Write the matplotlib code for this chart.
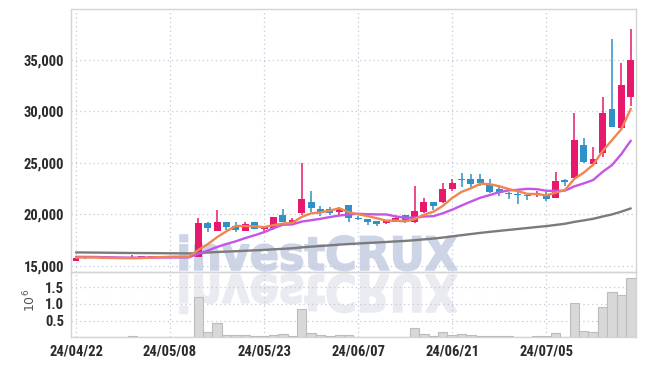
import numpy as np
import pandas as pd
import matplotlib
matplotlib.use("Agg")
import matplotlib.pyplot as plt
from matplotlib.textpath import TextPath
from matplotlib.patches import PathPatch
from matplotlib.font_manager import FontProperties, fontManager
from matplotlib.transforms import Affine2D

# ---------------- data ----------------
opens = [15500, 15700, 15820, 15780, 15650, 15700, 15720, 15780, 15800, 15880,
         15880, 15870, 15860, 15870, 19150, 18400, 19250, 18860, 18400, 19220,
         18600, 18670, 19930, 19180, 20160, 21230, 20520, 20520, 20250, 20900,
         19650, 19540, 19320, 19120, 19280, 19900, 19280, 20250, 21160, 21230,
         22430, 23400, 23400, 23400, 22850, 22430, 22100, 21900, 21830, 21850,
         21880, 21620, 23340, 23560, 26740, 24890, 26000, 30210, 28370, 31440]
highs = [15820, 15850, 15860, 15800, 15720, 15750, 16040, 15950, 15940, 15920,
         15920, 15900, 15900, 19600, 19200, 20390, 19280, 19250, 19250, 19250,
         18900, 19750, 20490, 19670, 24960, 22270, 20810, 20740, 20740, 20950,
         19830, 19560, 19350, 19420, 19770, 19950, 22750, 21560, 21200, 23010,
         23400, 23990, 23920, 23920, 23400, 22850, 22150, 22150, 22100, 22300,
         22150, 24150, 23400, 29830, 27390, 26580, 31440, 37020, 34690, 38000]
lows = [15480, 15680, 15760, 15620, 15620, 15650, 15700, 15760, 15780, 15840,
        15850, 15840, 15830, 15830, 18250, 18350, 18470, 18280, 18350, 18550,
        18400, 18470, 19200, 19150, 19930, 20250, 19830, 19900, 19830, 19280,
        19400, 18960, 18860, 19080, 19250, 19150, 19180, 20100, 20420, 21070,
        22300, 22680, 22680, 22750, 22100, 21750, 21460, 21000, 21350, 21650,
        21330, 21560, 22750, 23500, 25020, 24700, 25600, 28520, 28270, 30540]
closes = [15780, 15820, 15800, 15650, 15700, 15680, 15800, 15900, 15900, 15880,
          15870, 15860, 15850, 19180, 18670, 19280, 18760, 18470, 19060, 18600,
          18860, 19710, 19250, 19420, 21490, 20580, 20160, 20160, 20520, 19610,
          19580, 19280, 19060, 19380, 19610, 19220, 20320, 21230, 20840, 22430,
          23070, 23330, 22950, 23070, 22200, 22100, 21950, 21880, 21780, 22100,
          21490, 23240, 23170, 27230, 25120, 25350, 29830, 28520, 32580, 35010]
volumes_m = [0.005, 0.005, 0.003, 0.003, 0.003, 0.005, 0.04, 0.01, 0.005, 0.003,
             0.003, 0.003, 0.005, 1.20, 0.16, 0.42, 0.06, 0.06, 0.06, 0.03,
             0.03, 0.06, 0.09, 0.04, 0.84, 0.12, 0.06, 0.05, 0.06, 0.06,
             0.01, 0.01, 0.01, 0.01, 0.02, 0.02, 0.27, 0.10, 0.04, 0.15,
             0.07, 0.09, 0.06, 0.04, 0.03, 0.03, 0.03, 0.02, 0.02, 0.03,
             0.04, 0.12, 0.02, 1.02, 0.19, 0.16, 0.90, 1.35, 1.27, 1.77]
tick_pos = [0, 10, 20, 30, 40, 50]
tick_labels = ["24/04/22", "24/05/08", "24/05/23", "24/06/07", "24/06/21", "24/07/05"]
price_ticks = [15000, 20000, 25000, 30000, 35000]
vol_ticks = [0.5, 1.0, 1.5]
ma_windows = [60, 10, 5]
ma_start_levels = [16300, 15870, 15800]   # level of each MA line at the left edge
ma_colors = ["#7b7b7d", "#c655e6", "#ef8650"]

UP, DOWN = "#e8196c", "#2e91c7"
GRID = "#c4c8d8"
SPINE = "#d4d4d4"
TXT = "#2b2b2b"

names = {f.name for f in fontManager.ttflist}
if "Roboto Condensed" in names:
    tick_fp = FontProperties(family="Roboto Condensed", weight="bold", size=10.5)
else:
    tick_fp = FontProperties(family="DejaVu Sans", stretch="condensed", weight="bold", size=9.5)

# ---------------- layout ----------------
W, H = 645, 366
fig = plt.figure(figsize=(W / 100, H / 100), dpi=100, facecolor="white")
L, R = 71.3, 635.5
T, MID, B = 9.3, 272.3, 337.3
ax = fig.add_axes([L / W, 1 - MID / H, (R - L) / W, (MID - T) / H], facecolor="none")
axv = fig.add_axes([L / W, 1 - B / H, (R - L) / W, (B - MID) / H], facecolor="none", sharex=ax)

# watermark (behind everything)
wm = fig.add_axes([0, 0, 1, 1], zorder=-1)
wm.set_xlim(0, W)
wm.set_ylim(H, 0)
wm.axis("off")
tp = TextPath((0, 0), "investCRUX", size=100,
              prop=FontProperties(family="DejaVu Sans", weight="bold"))
ext = tp.get_extents()
x0, x1, ytop, ybase = 180, 457, 235, 270
sx = (x1 - x0) / ext.width
sy = (ybase - ytop) / ext.y1
main_tr = Affine2D().translate(-ext.x0, 0).scale(sx, -sy).translate(x0, ybase) + wm.transData
refl_tr = Affine2D().translate(-ext.x0, 0).scale(sx, sy * 1.1).translate(x0, ybase + 5) + wm.transData
wm.add_patch(PathPatch(tp, transform=main_tr, facecolor="#cdd4e5", edgecolor="#cdd4e5", linewidth=1.2))
wm.add_patch(PathPatch(tp, transform=refl_tr, facecolor="#e9ebf1", edgecolor="#e9ebf1", linewidth=1.2))

# ---------------- candles ----------------
n = len(closes)
x = np.arange(n)
o = np.array(opens, float)
c = np.array(closes, float)
h = np.array(highs, float)
l = np.array(lows, float)
up = c >= o
cols = np.where(up, UP, DOWN)
ax.vlines(x, l, h, colors=cols, linewidth=1.1, zorder=3)
body_bottom = np.minimum(o, c)
body_h = np.maximum(np.abs(c - o), 60)
ax.bar(x, body_h, bottom=body_bottom, width=0.74, color=cols, edgecolor="none", zorder=4)

# moving averages
for win, start, col in zip(ma_windows, ma_start_levels, ma_colors):
    s = pd.Series([start] * (win - 1) + list(closes), dtype=float)
    ma = s.rolling(win).mean().to_numpy()[win - 1:]
    ax.plot(x, ma, color=col, linewidth=1.7, zorder=5, solid_capstyle="round")

ax.set_xlim(-0.5, n - 0.5)
ax.set_ylim(14358, 39929)
ax.set_yticks(price_ticks)
ax.set_yticklabels([f"{v:,}" for v in price_ticks])
ax.set_xticks(tick_pos)
ax.tick_params(axis="x", labelbottom=False)

# ---------------- volume ----------------
axv.bar(x, volumes_m, width=1.0, color="#d8d8d8", edgecolor="#bcbcbc", linewidth=0.8, zorder=3)
axv.set_ylim(0, 1.947)
axv.set_yticks(vol_ticks)
axv.set_yticklabels([f"{v:.1f}" for v in vol_ticks])
axv.set_xticks(tick_pos)
axv.set_xticklabels(tick_labels)
axv.text(-0.073, 0.56, r"$10^6$", transform=axv.transAxes, rotation=90,
         ha="center", va="center", fontsize=9, color="#555555")

for a in (ax, axv):
    a.grid(True, color=GRID, linestyle=(0, (1, 2.5)), linewidth=0.9)
    a.set_axisbelow(True)
    for sp in a.spines.values():
        sp.set_color(SPINE)
        sp.set_linewidth(1.0)
    a.tick_params(length=0, pad=5, colors=TXT)
    for lab in a.get_yticklabels():
        lab.set_fontproperties(tick_fp)
        lab.set_color(TXT)
for lab in axv.get_xticklabels():
    lab.set_fontproperties(tick_fp)
    lab.set_color(TXT)

fig.savefig("out.png", dpi=100, facecolor="white")
